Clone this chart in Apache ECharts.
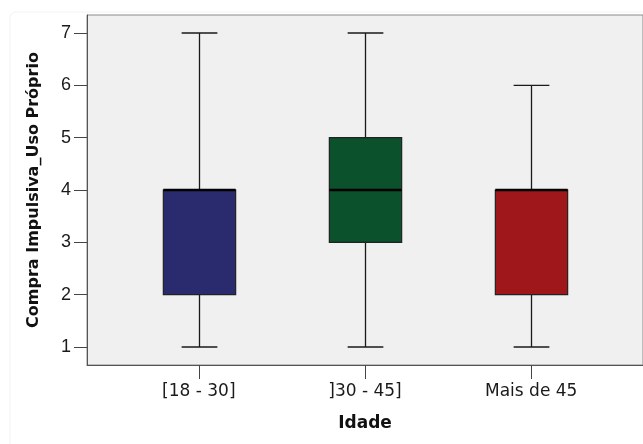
<!DOCTYPE html>
<html>
<head>
<meta charset="utf-8">
<script src="https://cdn.jsdelivr.net/npm/echarts@6/dist/echarts.min.js"></script>
<style>
  html, body { margin: 0; padding: 0; background: #ffffff; }
  #chart { width: 643px; height: 444px; }
</style>
</head>
<body>
<div id="chart"></div>
<script>
// Age groups on the horizontal axis
const categories = ['[18 - 30]', ']30 - 45]', 'Mais de 45'];
// Five-number summaries per group
const whiskerLow  = [1, 1, 1];
const quartile1   = [2, 3, 2];
const medians     = [4, 4, 4];
const quartile3   = [4, 5, 4];
const whiskerHigh = [7, 7, 6];
// Y tick values
const yTicks = [1, 2, 3, 4, 5, 6, 7];

const boxColors = ['#2a2a6e', '#0b512b', '#9f161b'];

const boxData = categories.map((c, i) => [
  i + 1, whiskerLow[i], quartile1[i], medians[i], quartile3[i], whiskerHigh[i]
]);

const BOX_WIDTH = 0.435;   // in category units
const CAP_WIDTH = 0.215;

function renderBox(params, api) {
  const x = api.value(0);
  const lo = api.coord([x, api.value(1)]);
  const q1 = api.coord([x, api.value(2)]);
  const md = api.coord([x, api.value(3)]);
  const q3 = api.coord([x, api.value(4)]);
  const hi = api.coord([x, api.value(5)]);
  const bw = api.size([BOX_WIDTH, 0])[0];
  const cw = api.size([CAP_WIDTH, 0])[0];
  const cx = Math.round(lo[0]) + 0.5;
  const lineStyle = { stroke: '#1a1a1a', lineWidth: 1.3, fill: null };
  const children = [
    { type: 'line', shape: { x1: cx, y1: hi[1], x2: cx, y2: q3[1] }, style: lineStyle },
    { type: 'line', shape: { x1: cx, y1: q1[1], x2: cx, y2: lo[1] }, style: lineStyle },
    { type: 'line', shape: { x1: cx - cw / 2, y1: hi[1], x2: cx + cw / 2, y2: hi[1] }, style: lineStyle },
    { type: 'line', shape: { x1: cx - cw / 2, y1: lo[1], x2: cx + cw / 2, y2: lo[1] }, style: lineStyle },
    {
      type: 'rect',
      shape: { x: cx - bw / 2, y: q3[1], width: bw, height: q1[1] - q3[1] },
      style: { fill: boxColors[params.dataIndex], stroke: '#222', lineWidth: 1.2 }
    },
    { type: 'line', shape: { x1: cx - bw / 2, y1: md[1], x2: cx + bw / 2, y2: md[1] },
      style: { stroke: '#000', lineWidth: 2.4 } }
  ];
  return { type: 'group', children };
}

const chart = echarts.init(document.getElementById('chart'), null, { renderer: 'canvas' });

chart.setOption({
  animation: false,
  backgroundColor: '#ffffff',
  graphic: [{
    type: 'rect',
    silent: true,
    z: -10,
    shape: { x: 10, y: 12, width: 700, height: 500, r: 6 },
    style: { fill: null, stroke: '#f3f3f3', lineWidth: 1 }
  }],
  grid: {
    left: 87, top: 15, bottom: 79, right: -6,
    show: true,
    backgroundColor: '#f0f0f0',
    borderColor: '#8a8a8a',
    borderWidth: 1
  },
  xAxis: {
    type: 'value',
    min: 0.3274,
    max: 3.6726,
    name: 'Idade',
    nameLocation: 'middle',
    nameGap: 50,
    nameTextStyle: { fontFamily: 'DejaVu Sans', fontWeight: 'bold', fontSize: 17, color: '#111' },
    splitLine: { show: false },
    axisLine: { show: true, lineStyle: { color: '#555', width: 1 } },
    axisTick: { show: true, length: 14, customValues: [1, 2, 3], lineStyle: { color: '#444' } },
    axisLabel: {
      customValues: [1, 2, 3],
      margin: 18,
      fontFamily: 'DejaVu Sans',
      fontSize: 17,
      color: '#1a1a1a',
      formatter: v => categories[Math.round(v) - 1] || ''
    }
  },
  yAxis: {
    type: 'value',
    min: 0.656,
    max: 7.344,
    name: 'Compra Impulsiva_Uso Próprio',
    nameLocation: 'middle',
    nameGap: 45,
    nameRotate: 90,
    nameTextStyle: { fontFamily: 'DejaVu Sans', fontWeight: 'bold', fontSize: 16, color: '#111' },
    splitLine: { show: false },
    axisLine: { show: true, lineStyle: { color: '#555', width: 1 } },
    axisTick: { show: true, length: 13, customValues: yTicks, lineStyle: { color: '#444' } },
    axisLabel: {
      customValues: yTicks,
      margin: 16,
      fontFamily: 'Liberation Sans',
      fontSize: 18,
      color: '#1a1a1a'
    }
  },
  series: [{
    type: 'custom',
    renderItem: renderBox,
    encode: { x: 0, y: [1, 2, 3, 4, 5] },
    data: boxData,
    clip: false
  }]
});
</script>
</body>
</html>
